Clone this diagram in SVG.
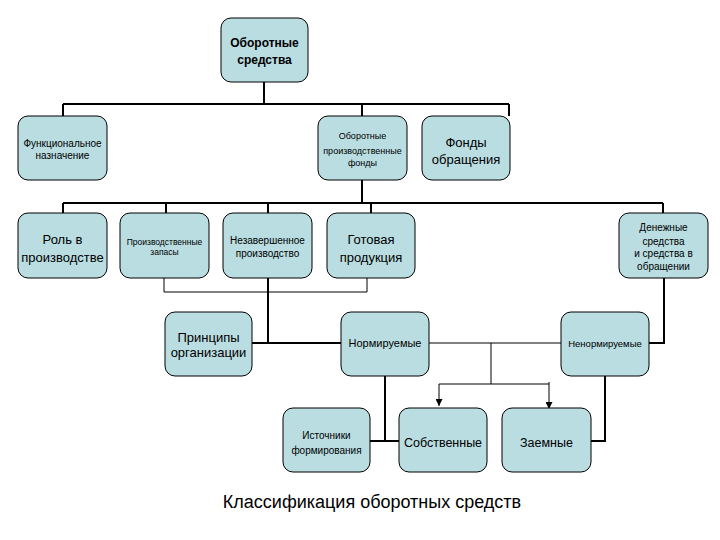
<svg xmlns="http://www.w3.org/2000/svg" width="720" height="540" viewBox="0 0 720 540">
<style>
.box{fill:#b9dde0;stroke:#000;stroke-width:1}
text{font-family:"Liberation Sans",Arial,sans-serif;fill:#000;text-anchor:middle}
.c{fill:none;stroke:#000;stroke-width:2}
.t{fill:none;stroke:#000;stroke-width:1}
</style>
<defs>
<marker id="ar" viewBox="0 0 10 10" refX="10" refY="5" markerWidth="7" markerHeight="7" markerUnits="userSpaceOnUse" orient="auto">
<path d="M0,0 L10,5 L0,10 z" fill="#000"/>
</marker>
</defs>
<rect width="720" height="540" fill="#fff"/>
<g id="connectors">
<path class="c" d="M264,82 V104 M63,104 H509 M63,104 V116 M362,104 V116 M509,104 V116"/>
<path class="c" d="M362,180 V203 M63,203 H663 M63,203 V213 M166,203 V213 M268,203 V213 M371,203 V213 M663,203 V213"/>
<path class="t" d="M164,278 V292 H367 V278"/>
<path class="c" d="M268,278 V343 M252,343 H341"/>
<path class="t" d="M429,343 H561 M491,343 V384 M439,384 H549"/>
<path class="t" d="M439,384 V406" marker-end="url(#ar)"/>
<path class="t" d="M549,382 V409" marker-end="url(#ar)"/>
<path class="c" d="M649,343 H664 V278"/>
<path class="c" d="M385,376 V441 M370,441 H399"/>
<path class="c" d="M605,376 V441 H591"/>
</g>
<g id="n-oborotnye-sredstva"><rect class="box" x="221" y="18" width="87" height="64" rx="10"/>
<text font-size="12" font-weight="bold"><tspan x="264.5" y="47">Оборотные</tspan><tspan x="264.5" y="64">средства</tspan></text></g>
<g id="n-funkc"><rect class="box" x="18" y="116" width="89" height="64" rx="10"/>
<text font-size="10"><tspan x="62.5" y="146.5">Функциональное</tspan><tspan x="62.5" y="158.5">назначение</tspan></text></g>
<g id="n-opf"><rect class="box" x="318" y="116" width="89" height="64" rx="10"/>
<text font-size="9"><tspan x="362.5" y="139">Оборотные</tspan><tspan x="362.5" y="154">производственные</tspan><tspan x="362.5" y="166">фонды</tspan></text></g>
<g id="n-fondy-obr"><rect class="box" x="422" y="116" width="88" height="64" rx="10"/>
<text font-size="13"><tspan x="466" y="146.5">Фонды</tspan><tspan x="466" y="163.5">обращения</tspan></text></g>
<g id="n-rol"><rect class="box" x="18" y="213" width="89" height="65" rx="10"/>
<text font-size="13"><tspan x="62.5" y="243.5">Роль в</tspan><tspan x="62.5" y="261.5">производстве</tspan></text></g>
<g id="n-zapasy"><rect class="box" x="120" y="213" width="89" height="65" rx="10"/>
<text font-size="8.5"><tspan x="164.5" y="245">Производственные</tspan><tspan x="164.5" y="255">запасы</tspan></text></g>
<g id="n-nezav"><rect class="box" x="223" y="213" width="89" height="65" rx="10"/>
<text font-size="10"><tspan x="267.5" y="243.5">Незавершенное</tspan><tspan x="267.5" y="256.5">производство</tspan></text></g>
<g id="n-gotovaya"><rect class="box" x="327" y="213" width="88" height="65" rx="10"/>
<text font-size="13"><tspan x="371" y="243.5">Готовая</tspan><tspan x="371" y="261.5">продукция</tspan></text></g>
<g id="n-denezhnye"><rect class="box" x="619" y="213" width="89" height="65" rx="10"/>
<text font-size="10"><tspan x="663.5" y="230.5">Денежные</tspan><tspan x="663.5" y="244.5">средства</tspan><tspan x="663.5" y="256.5">и средства в</tspan><tspan x="663.5" y="269.5">обращении</tspan></text></g>
<g id="n-principy"><rect class="box" x="165" y="312" width="87" height="64" rx="10"/>
<text font-size="13"><tspan x="208.5" y="341.5">Принципы</tspan><tspan x="208.5" y="356.5">организации</tspan></text></g>
<g id="n-normir"><rect class="box" x="341" y="312" width="88" height="64" rx="10"/>
<text font-size="11" x="385" y="347">Нормируемые</text></g>
<g id="n-nenormir"><rect class="box" x="561" y="312" width="88" height="64" rx="10"/>
<text font-size="9.5" x="605" y="346.5">Ненормируемые</text></g>
<g id="n-istochniki"><rect class="box" x="283" y="408" width="87" height="64" rx="10"/>
<text font-size="10"><tspan x="326.5" y="438.5">Источники</tspan><tspan x="326.5" y="453.5">формирования</tspan></text></g>
<g id="n-sobstv"><rect class="box" x="399" y="408" width="88" height="64" rx="10"/>
<text font-size="12.5" x="443" y="446.5">Собственные</text></g>
<g id="n-zaemnye"><rect class="box" x="502" y="408" width="89" height="64" rx="10"/>
<text font-size="12.5" x="546.5" y="446.5">Заемные</text></g>
<text id="title" font-size="18" x="372" y="508">Классификация оборотных средств</text>
</svg>
